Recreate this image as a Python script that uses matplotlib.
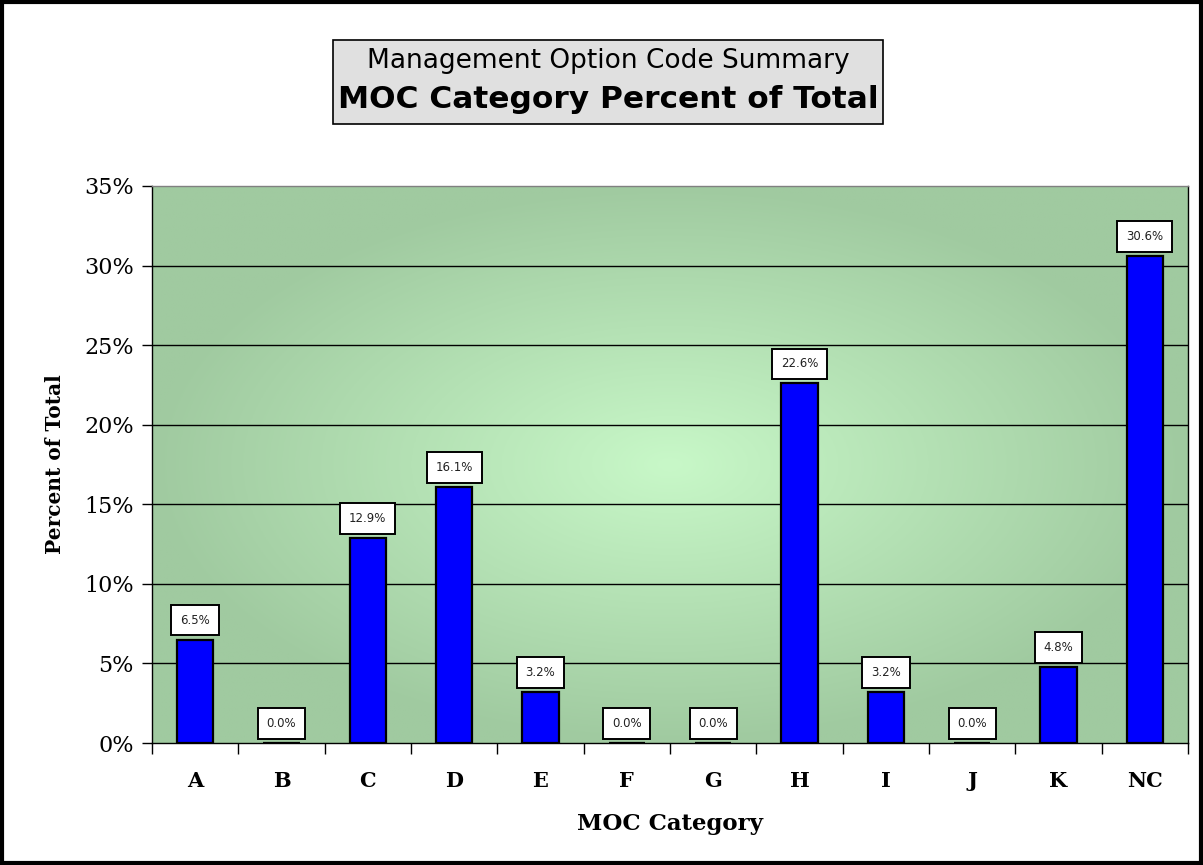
import numpy as np
import matplotlib
matplotlib.use("Agg")
import matplotlib.pyplot as plt
from matplotlib.patches import Rectangle
from matplotlib.ticker import FixedLocator

categories = ["A", "B", "C", "D", "E", "F", "G", "H", "I", "J", "K", "NC"]
percents = [6.5, 0.0, 12.9, 16.1, 3.2, 0.0, 0.0, 22.6, 3.2, 0.0, 4.8, 30.6]
yticks = [0, 5, 10, 15, 20, 25, 30, 35]

W, H = 1203, 865
fig = plt.figure(figsize=(W / 100, H / 100), dpi=100)
fig.patch.set_facecolor("white")

# figure border
fig.add_artist(Rectangle((2 / W, 2 / H), 1 - 4 / W, 1 - 4 / H, transform=fig.transFigure,
                         fill=False, edgecolor="black", linewidth=3))

ax = fig.add_axes([152 / W, 1 - 743 / H, (1188 - 152) / W, (743 - 186) / H])
n = len(categories)
x = np.arange(n)
ax.set_xlim(-0.5, n - 0.5)
ax.set_ylim(0, 35)

# radial gradient background
gx = np.linspace(-1, 1, 400)
gy = np.linspace(-1, 1, 300)
GX, GY = np.meshgrid(gx, gy)
r = np.clip(np.sqrt(GX ** 2 + GY ** 2) / 1.0, 0, 1)
c0 = np.array([0xc8, 0xf8, 0xc8]) / 255.0
c1 = np.array([0xa0, 0xca, 0xa0]) / 255.0
img = c0[None, None, :] * (1 - r[..., None]) + c1[None, None, :] * r[..., None]
ax.imshow(img, extent=(-0.5, n - 0.5, 0, 35), aspect="auto", zorder=0, origin="lower")

for yv in yticks[1:-1]:
    ax.axhline(yv, color="black", linewidth=1, zorder=1)

ax.bar(x, percents, width=0.42, color="#0000ff", edgecolor="black", linewidth=1.6, zorder=2)

for xi, v in zip(x, percents):
    ax.annotate(f"{v:.1f}%", xy=(xi, v), xytext=(0, 14), textcoords="offset points",
                ha="center", va="center", fontsize=8.5, family="DejaVu Sans", color="#222222",
                bbox=dict(boxstyle="square,pad=0.75", facecolor="white", edgecolor="black", linewidth=1.4),
                zorder=5)

ax.set_yticks(yticks)
ax.set_yticklabels([f"{t}%" for t in yticks], fontsize=16, family="DejaVu Serif")
ax.set_xticks(x)
ax.set_xticklabels(categories, fontsize=15, family="DejaVu Serif", fontweight="bold")
ax.xaxis.set_minor_locator(FixedLocator(np.arange(-0.5, n, 1.0)))
ax.tick_params(axis="x", which="major", length=0, pad=20)
ax.tick_params(axis="x", which="minor", length=8, width=1, direction="out")
ax.tick_params(axis="y", length=7, width=1, direction="out", pad=6)

ax.set_xlabel("MOC Category", fontsize=16.5, family="DejaVu Serif", fontweight="bold", labelpad=16)
ax.set_ylabel("Percent of Total", fontsize=14.5, family="DejaVu Serif", fontweight="bold", labelpad=14)

ax.spines["top"].set_color("#808080")
ax.spines["right"].set_color("black")
ax.spines["left"].set_color("black")
ax.spines["bottom"].set_color("black")
for s in ax.spines.values():
    s.set_linewidth(1)

# title box
fig.add_artist(Rectangle((333 / W, 1 - 124 / H), (883 - 333) / W, (124 - 40) / H,
                         transform=fig.transFigure, facecolor="#e0e0e0", edgecolor="black", linewidth=1.2))
fig.text(608 / W, 1 - 61 / H, "Management Option Code Summary", ha="center", va="center",
         fontsize=19, family="DejaVu Sans")
fig.text(608 / W, 1 - 99 / H, "MOC Category Percent of Total", ha="center", va="center",
         fontsize=22.5, family="DejaVu Sans", fontweight="bold")

fig.savefig("out.png", dpi=100)
